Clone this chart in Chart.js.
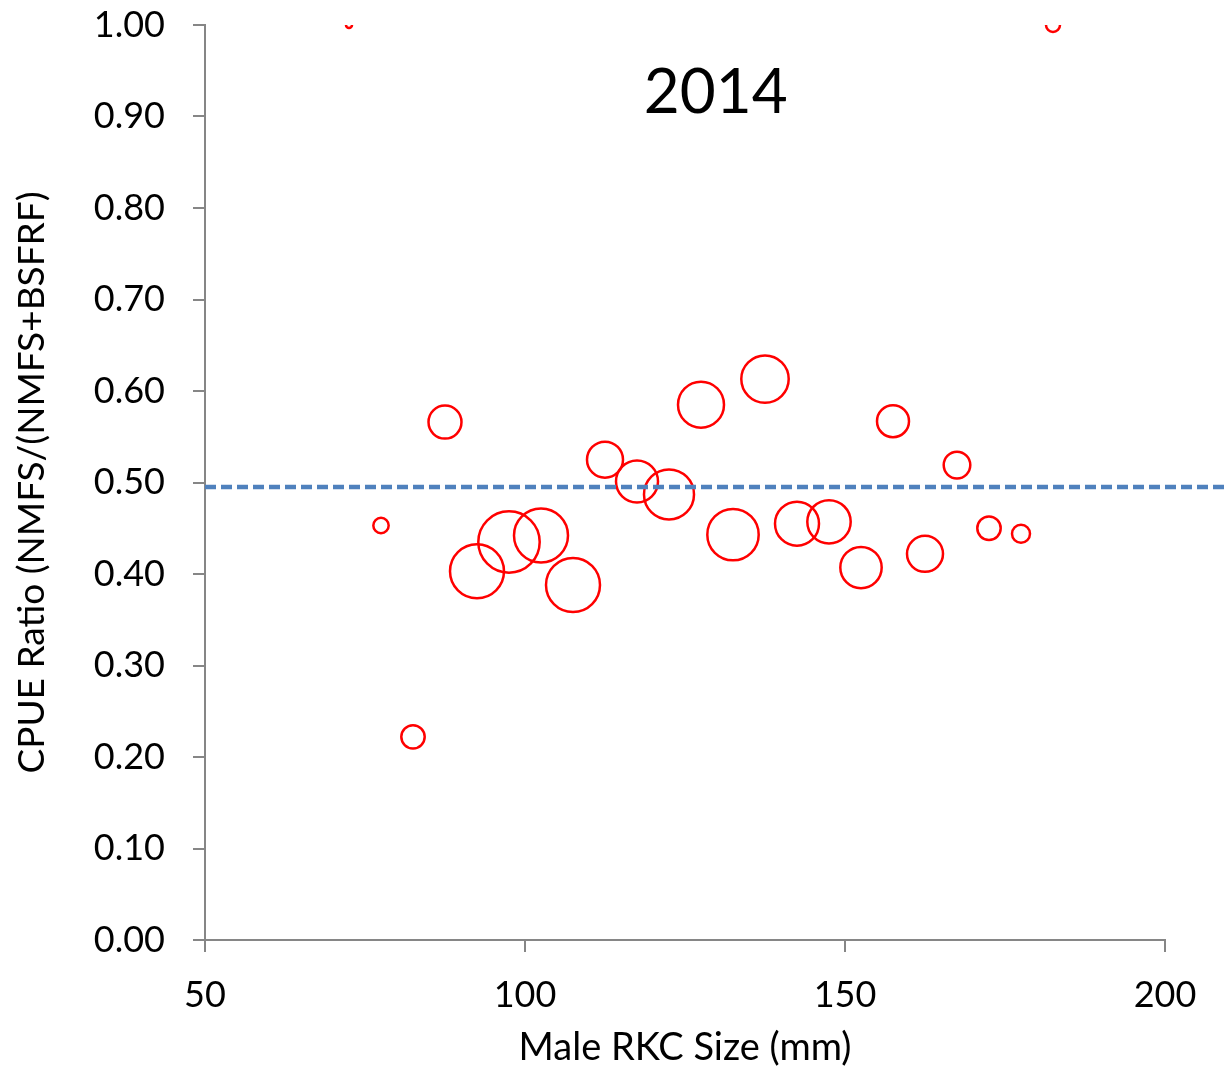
<!DOCTYPE html>
<html>
<head>
<meta charset="utf-8">
<script src="https://cdn.jsdelivr.net/npm/chart.js@4.4.1/dist/chart.umd.min.js"></script>
<style>
    html, body { margin: 0; padding: 0; background: #fff; }
    #wrap { width: 1230px; height: 1073px; }
</style>
</head>
<body>
<div id="wrap"><canvas id="chart" width="1230" height="1073"></canvas></div>
<script>
// Male RKC CPUE ratio by size class, 2014
const sizeClasses = [72.5, 77.5, 82.5, 87.5, 92.5, 97.5, 102.5, 107.5, 112.5, 117.5, 122.5, 127.5,
                     132.5, 137.5, 142.5, 147.5, 152.5, 157.5, 162.5, 167.5, 172.5, 177.5, 182.5];
const cpueRatio = [1.00, 0.453, 0.222, 0.566, 0.403, 0.435, 0.442, 0.388, 0.525, 0.501, 0.487, 0.585,
                   0.443, 0.613, 0.455, 0.457, 0.407, 0.567, 0.422, 0.519, 0.450, 0.444, 1.00];
// relative bubble sizes (sample weight)
const bubbleSize = [0.9, 5.9, 13.7, 27.2, 72.9, 94.2, 72.9, 72.9, 32.4, 44.1, 62.5, 52.9,
                    66.0, 56.2, 48.4, 47.1, 42.8, 25.6, 32.4, 17.7, 13.7, 8.1, 4.9];
const meanRatio = 0.495;
const meanLineX = [50, 210];
const xTicks = [50, 100, 150, 200];
const chartTitle = '2014';

const FONT = 'Lato, Calibri, sans-serif';
const AXIS_GREY = '#868686';

const bubbles = sizeClasses.map((x, i) => ({ x: x, y: cpueRatio[i], r: Math.sqrt(bubbleSize[i] * 10) }));

// draws the year label inside the plot
const titlePlugin = {
    id: 'innerTitle',
    afterDatasetsDraw(chart) {
        const ctx = chart.ctx;
        const x = chart.scales.x.getPixelForValue(129.8);
        const y = chart.scales.y.getPixelForValue(0.926);
        ctx.save();
        ctx.font = '62px ' + FONT;
        ctx.fillStyle = '#000';
        ctx.textAlign = 'center';
        ctx.textBaseline = 'middle';
        ctx.fillText(chartTitle, x, y);
        ctx.restore();
    }
};

new Chart(document.getElementById('chart').getContext('2d'), {
    type: 'bubble',
    data: {
        datasets: [
            {
                type: 'line',
                label: 'mean',
                data: meanLineX.map(x => ({ x: x, y: meanRatio })),
                borderColor: '#4F81BD',
                borderWidth: 4.5,
                borderDash: [11, 5],
                pointRadius: 0,
                fill: false,
                clip: false
            },
            {
                label: 'CPUE ratio',
                data: bubbles,
                borderColor: '#FF0000',
                backgroundColor: 'rgba(0,0,0,0)',
                borderWidth: 2.5,
                clip: 0
            }
        ]
    },
    options: {
        responsive: false,
        animation: false,
        events: [],
        layout: { autoPadding: false, padding: { top: 25, right: 65, left: 0, bottom: 0 } },
        plugins: {
            legend: { display: false },
            tooltip: { enabled: false }
        },
        scales: {
            x: {
                type: 'linear',
                min: 50,
                max: 200,
                afterBuildTicks: axis => { axis.ticks = xTicks.map(v => ({ value: v })); },
                afterFit: axis => { axis.height = 133; axis.paddingLeft = 0; axis.paddingRight = 0; },
                grid: { drawOnChartArea: false, tickLength: 12, color: AXIS_GREY, lineWidth: 2 },
                border: { color: AXIS_GREY, width: 2 },
                ticks: { color: '#000', font: { family: FONT, size: 36 }, padding: 22, maxRotation: 0 },
                title: { display: true, text: 'Male RKC Size (mm)', color: '#000',
                         font: { family: FONT, size: 38 }, padding: { top: 0, bottom: 2 } }
            },
            y: {
                type: 'linear',
                min: 0,
                max: 1,
                afterFit: axis => { axis.width = 205; axis.paddingTop = 0; axis.paddingBottom = 0; },
                grid: { drawOnChartArea: false, tickLength: 12, color: AXIS_GREY, lineWidth: 2 },
                border: { color: AXIS_GREY, width: 2 },
                ticks: { stepSize: 0.1, color: '#000', font: { family: FONT, size: 36 }, padding: 28,
                         callback: v => v.toFixed(2) },
                title: { display: true, text: 'CPUE Ratio (NMFS/(NMFS+BSFRF)', color: '#000',
                         font: { family: FONT, size: 37 }, padding: { top: 10, bottom: 0 } }
            }
        }
    },
    plugins: [titlePlugin]
});
</script>
</body>
</html>
